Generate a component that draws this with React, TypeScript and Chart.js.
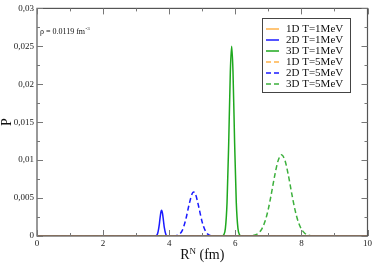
import React, { useEffect, useRef } from 'react';
import { Chart, registerables } from 'chart.js';

Chart.register(...registerables);

// ---- data ----
const xTickValues = [0, 2, 4, 6, 8, 10];
const yTickValues = [0, 0.005, 0.01, 0.015, 0.02, 0.025, 0.03];
const yTickLabels = ['0', '0,005', '0,01', '0,015', '0,02', '0,025', '0,03'];

const seriesLabels = ['1D T=1MeV', '2D T=1MeV', '3D T=1MeV', '1D T=5MeV', '2D T=5MeV', '3D T=5MeV'];

const x1D_T1 = [0, 2, 4, 6, 8, 10];
const y1D_T1 = [0, 0, 0, 0, 0, 0];

const x2D_T1 = [0, 3.5, 3.6, 3.65, 3.7, 3.72, 3.75, 3.77, 3.8, 3.83, 3.85, 3.9, 3.95, 4.0, 10];
const y2D_T1 = [0, 0, 0.00003, 0.00032, 0.00151, 0.00225, 0.00318, 0.0034, 0.00293, 0.00188, 0.00118, 0.00021, 0.00002, 0, 0];

const x3D_T1 = [0, 5.5, 5.6, 5.65, 5.7, 5.75, 5.8, 5.85, 5.89, 5.93, 5.98, 6.03, 6.08, 6.13, 6.18, 6.3, 10];
const y3D_T1 = [0, 0, 0.00001, 0.00015, 0.001, 0.0044, 0.0122, 0.0217, 0.025, 0.0217, 0.0122, 0.0044, 0.001, 0.00015, 0.00001, 0, 0];

const x1D_T5 = [0, 2, 4, 6, 8, 10];
const y1D_T5 = [0, 0, 0, 0, 0, 0];

const x2D_T5 = [0, 4.1, 4.2, 4.3, 4.4, 4.5, 4.6, 4.7, 4.74, 4.8, 4.9, 5.0, 5.1, 5.2, 5.3, 5.4, 10];
const y2D_T5 = [0, 0, 0.00004, 0.0002, 0.00078, 0.00214, 0.0041, 0.00564, 0.0058, 0.00545, 0.00372, 0.0018, 0.00062, 0.00015, 0.00003, 0, 0];

const x3D_T5 = [0, 6.4, 6.5, 6.6, 6.7, 6.8, 6.9, 7.0, 7.1, 7.2, 7.3, 7.4, 7.5, 7.6, 7.7, 7.8, 7.9, 8.0, 8.1, 8.2, 8.3, 8.4, 10];
const y3D_T5 = [0, 0, 0.00004, 0.00013, 0.00037, 0.00091, 0.00193, 0.00357, 0.00577, 0.00813, 0.00999, 0.0107, 0.00999, 0.00813, 0.00577, 0.00357, 0.00193, 0.00091, 0.00037, 0.00013, 0.00004, 0, 0];

const seriesX = [x1D_T1, x2D_T1, x3D_T1, x1D_T5, x2D_T5, x3D_T5];
const seriesY = [y1D_T1, y2D_T1, y3D_T1, y1D_T5, y2D_T5, y3D_T5];

// ---- styles ----
const seriesColors = ['#ffb24a', '#1a1aff', '#1ea81e', '#ffb24a', '#1a1aff', '#3cb03c'];
const seriesDashed = [false, false, false, true, true, true];

const SERIF = '"Liberation Serif", "DejaVu Serif", serif';

const decorPlugin = {
  id: 'decor',
  afterDraw(chart: any) {
    const ctx = chart.ctx;
    const { left, right, top, bottom } = chart.chartArea;
    const xs = chart.scales.x;
    const ys = chart.scales.y;
    ctx.save();

    // frame
    ctx.strokeStyle = '#555';
    ctx.lineWidth = 1.2;
    ctx.setLineDash([]);
    ctx.strokeRect(left, top, right - left, bottom - top);

    // inward ticks
    ctx.strokeStyle = '#777';
    ctx.lineWidth = 1;
    for (let v = 0; v <= 10; v += 1) {
      const px = Math.round(xs.getPixelForValue(v)) + 0.5;
      const len = v % 2 === 0 ? 6 : 3;
      ctx.beginPath();
      ctx.moveTo(px, bottom);
      ctx.lineTo(px, bottom - len);
      ctx.moveTo(px, top);
      ctx.lineTo(px, top + len);
      ctx.stroke();
    }
    for (let i = 0; i <= 12; i++) {
      const v = i * 0.0025;
      const py = Math.round(ys.getPixelForValue(v)) + 0.5;
      const len = i % 2 === 0 ? 6 : 3;
      ctx.beginPath();
      ctx.moveTo(left, py);
      ctx.lineTo(left + len, py);
      ctx.moveTo(right, py);
      ctx.lineTo(right - len, py);
      ctx.stroke();
    }

    // legend
    const bx = 262, by = 18, bw = 88, bh = 74;
    ctx.fillStyle = '#fff';
    ctx.fillRect(bx, by, bw, bh);
    ctx.strokeStyle = '#444';
    ctx.lineWidth = 1;
    ctx.strokeRect(bx + 0.5, by + 0.5, bw, bh);
    ctx.font = `11px ${SERIF}`;
    ctx.textBaseline = 'middle';
    ctx.textAlign = 'left';
    chart.data.datasets.forEach((ds: any, i: number) => {
      const ry = by + 11 + i * 11;
      ctx.strokeStyle = ds.borderColor;
      ctx.lineWidth = 1.5;
      ctx.setLineDash(ds.borderDash || []);
      ctx.beginPath();
      ctx.moveTo(bx + 4, ry);
      ctx.lineTo(bx + 17, ry);
      ctx.stroke();
      ctx.setLineDash([]);
      ctx.fillStyle = '#111';
      ctx.fillText(ds.label, bx + 24, ry + 0.5);
    });

    // annotation rho
    ctx.fillStyle = '#111';
    ctx.textBaseline = 'alphabetic';
    ctx.font = `8px ${SERIF}`;
    const t1 = '\u03c1 = 0.0119 fm';
    ctx.fillText(t1, 40, 34);
    const w1 = ctx.measureText(t1).width;
    ctx.font = `5px ${SERIF}`;
    ctx.fillText('-3', 40 + w1 + 0.5, 30);

    // x axis title
    ctx.font = `14px ${SERIF}`;
    const wR = ctx.measureText('R').width;
    const rest = ' (fm)';
    const wRest = ctx.measureText(rest).width;
    ctx.font = `9px ${SERIF}`;
    const wN = ctx.measureText('N').width;
    const total = wR + wN + wRest;
    let cx = (left + right) / 2 - total / 2;
    const baseY = 259;
    ctx.font = `14px ${SERIF}`;
    ctx.fillText('R', cx, baseY);
    cx += wR;
    ctx.font = `9px ${SERIF}`;
    ctx.fillText('N', cx, baseY - 5);
    cx += wN;
    ctx.font = `14px ${SERIF}`;
    ctx.fillText(rest, cx, baseY);

    // y axis title
    ctx.save();
    ctx.translate(11, (top + bottom) / 2);
    ctx.rotate(-Math.PI / 2);
    ctx.textAlign = 'center';
    ctx.font = `14px ${SERIF}`;
    ctx.fillText('P', 0, 0);
    ctx.restore();

    ctx.restore();
  },
};

export default function App() {
  const ref = useRef<HTMLCanvasElement>(null);
  useEffect(() => {
    document.body.style.margin = '0';
    const canvas = ref.current!;
    const datasets = seriesLabels.map((label, i) => ({
      label,
      data: seriesX[i].map((x, j) => ({ x, y: seriesY[i][j] })),
      borderColor: seriesColors[i],
      backgroundColor: seriesColors[i],
      borderWidth: 1.5,
      borderDash: seriesDashed[i] ? [5, 3] : [],
      pointRadius: 0,
      fill: false,
      tension: 0,
      cubicInterpolationMode: 'monotone' as const,
    }));
    const chart = new Chart(canvas, {
      type: 'line',
      data: { datasets },
      options: {
        animation: false,
        responsive: false,
        devicePixelRatio: 1,
        layout: { padding: { top: 5, right: 6, left: 0, bottom: 0 } },
        plugins: { legend: { display: false }, tooltip: { enabled: false } },
        scales: {
          x: {
            type: 'linear',
            min: 0,
            max: 10,
            grid: { display: false, drawTicks: false },
            border: { display: false },
            afterBuildTicks: (s: any) => { s.ticks = xTickValues.map((v) => ({ value: v })); },
            afterFit: (s: any) => { s.height = 27; },
            ticks: {
              padding: 2,
              maxRotation: 0,
              autoSkip: false,
              color: '#222',
              font: { family: SERIF, size: 9 },
              callback: (v: any) => String(v),
            },
          },
          y: {
            type: 'linear',
            min: 0,
            max: 0.03,
            grid: { display: false, drawTicks: false },
            border: { display: false },
            afterBuildTicks: (s: any) => { s.ticks = yTickValues.map((v) => ({ value: v })); },
            afterFit: (s: any) => { s.width = 37; },
            ticks: {
              padding: 3,
              autoSkip: false,
              color: '#222',
              font: { family: SERIF, size: 9 },
              callback: (_v: any, idx: number) => yTickLabels[idx],
            },
          },
        },
      },
      plugins: [decorPlugin],
    });
    return () => chart.destroy();
  }, []);
  return (
    <div style={{ width: 374, height: 263 }}>
      <canvas ref={ref} width={374} height={263} style={{ display: 'block' }} />
    </div>
  );
}
